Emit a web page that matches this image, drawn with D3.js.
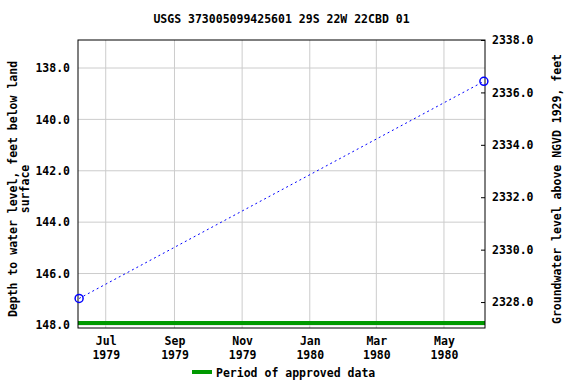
<!DOCTYPE html>
<html>
<head>
<meta charset="utf-8">
<script src="https://cdn.jsdelivr.net/npm/d3@7"></script>
<style>
  body { margin: 0; background: #fff; }
  text { font-family: "DejaVu Sans Mono", monospace; font-weight: bold; font-size: 11.5px; fill: #000; }
</style>
</head>
<body>
<script>
const title = "USGS 373005099425601 29S 22W 22CBD 01";
const obsDates = ["1979-06-07", "1980-06-06"];
const obsDepths = [146.97, 138.52];
const approvedDates = ["1979-06-06", "1980-06-07"];
const approvedDepth = 147.93;
const depthTicks = [138, 140, 142, 144, 146, 148];
const elevTicks = [2328, 2330, 2332, 2334, 2336, 2338];
const monthTicks = ["1979-07-01", "1979-09-01", "1979-11-01", "1980-01-01", "1980-03-01", "1980-05-01"];

const margin = { top: 40, right: 91, bottom: 56, left: 78 };
const width = 576 - margin.left - margin.right;
const height = 384 - margin.top - margin.bottom;

const parse = d3.utcParse("%Y-%m-%d");

const svg = d3.select("body").append("svg")
    .attr("width", 576)
    .attr("height", 384);

const g = svg.append("g")
    .attr("transform", `translate(${margin.left}, ${margin.top})`);

const x = d3.scaleUtc()
    .domain([parse("1979-06-06"), parse("1980-06-07")])
    .range([0, width]);

const yL = d3.scaleLinear()
    .domain([136.91, 148.12])
    .range([0, height]);

const yR = d3.scaleLinear()
    .domain([2338, 2327.01])
    .range([0, height]);

// grid
g.append("g").selectAll("line.v")
  .data(monthTicks)
  .enter().append("line")
    .attr("x1", d => x(parse(d))).attr("x2", d => x(parse(d)))
    .attr("y1", 0).attr("y2", height)
    .style("stroke", "#cccccc");

g.append("g").selectAll("line.h")
  .data(depthTicks)
  .enter().append("line")
    .attr("x1", 0).attr("x2", width)
    .attr("y1", d => yL(d)).attr("y2", d => yL(d))
    .style("stroke", "#cccccc");

// approved period bar
g.append("line")
    .attr("x1", x(parse(approvedDates[0])))
    .attr("x2", x(parse(approvedDates[1])))
    .attr("y1", yL(approvedDepth))
    .attr("y2", yL(approvedDepth))
    .style("stroke", "#009900")
    .style("stroke-width", 4);

// axes
const left = g.append("g")
    .call(d3.axisLeft(yL).tickValues(depthTicks).tickSize(0).tickPadding(8).tickFormat(d3.format(".1f")));
const right = g.append("g")
    .attr("transform", `translate(${width},0)`)
    .call(d3.axisRight(yR).tickValues(elevTicks).tickSizeInner(-4).tickSizeOuter(0).tickPadding(7).tickFormat(d3.format(".1f")));
const bottom = g.append("g")
    .attr("transform", `translate(0,${height})`)
    .call(d3.axisBottom(x).tickValues(monthTicks.map(parse)).tickSize(0).tickPadding(8).tickFormat(""));

[left, right, bottom].forEach(a => {
  a.select(".domain").remove();
  a.selectAll("text").style("font-family", null).style("font-size", null);
  a.selectAll("line").style("stroke", "#000");
});

bottom.selectAll(".tick").append("text")
    .attr("y", 17)
    .attr("text-anchor", "middle")
    .text(d => d3.utcFormat("%b")(d));
bottom.selectAll(".tick").append("text")
    .attr("y", 31)
    .attr("text-anchor", "middle")
    .text(d => d3.utcFormat("%Y")(d));

// frame
g.append("rect")
    .attr("width", width)
    .attr("height", height)
    .style("fill", "none")
    .style("stroke", "#000")
    .style("stroke-width", 1);

// data
const pts = obsDates.map((d, i) => ({ date: parse(d), depth: obsDepths[i] }));

g.append("path")
    .datum(pts)
    .attr("d", d3.line().x(d => x(d.date)).y(d => yL(d.depth)))
    .style("fill", "none")
    .style("stroke", "#0000ff")
    .style("stroke-width", 1)
    .style("stroke-dasharray", "2,3");

g.selectAll("circle")
  .data(pts)
  .enter().append("circle")
    .attr("cx", d => x(d.date))
    .attr("cy", d => yL(d.depth))
    .attr("r", 4)
    .style("fill", "none")
    .style("stroke", "#0000ff")
    .style("stroke-width", 1.5);

// titles
svg.append("text")
    .attr("x", margin.left + width / 2)
    .attr("y", 23)
    .attr("text-anchor", "middle")
    .text(title);

svg.append("text")
    .attr("transform", "rotate(-90)")
    .attr("x", -(margin.top + height / 2 + 5))
    .attr("y", 17)
    .attr("text-anchor", "middle")
    .text("Depth to water level, feet below land");
svg.append("text")
    .attr("transform", "rotate(-90)")
    .attr("x", -(margin.top + height / 2 + 5))
    .attr("y", 29)
    .attr("text-anchor", "middle")
    .text("surface");

svg.append("text")
    .attr("transform", "rotate(-90)")
    .attr("x", -(margin.top + height / 2 + 5))
    .attr("y", 561)
    .attr("text-anchor", "middle")
    .text("Groundwater level above NGVD 1929, feet");

// legend
svg.append("line")
    .attr("x1", 192).attr("x2", 212)
    .attr("y1", 372).attr("y2", 372)
    .style("stroke", "#009900")
    .style("stroke-width", 4);
svg.append("text")
    .attr("x", 216)
    .attr("y", 377)
    .text("Period of approved data");
</script>
</body>
</html>
